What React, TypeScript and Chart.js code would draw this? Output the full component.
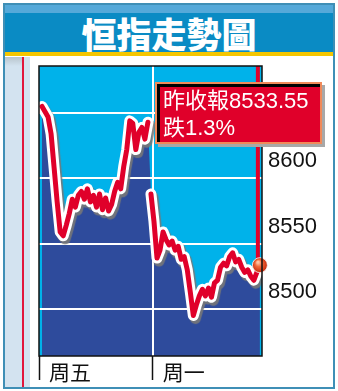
import React, { useEffect, useRef } from "react";
import { Chart, registerables } from "chart.js";

Chart.register(...registerables);

const fridayValues = [8655, 8651, 8647, 8634, 8608, 8582, 8559, 8556, 8564, 8573, 8584, 8578, 8587, 8590, 8584, 8592, 8582, 8587, 8578, 8588, 8576, 8585, 8575, 8580, 8590, 8597, 8592, 8609, 8622, 8644, 8642, 8622, 8635, 8639, 8630, 8643];
const mondayValues = [8588, 8567, 8539, 8545, 8559, 8553, 8549, 8552, 8545, 8548, 8538, 8540, 8530, 8513, 8495, 8503, 8510, 8515, 8510, 8516, 8509, 8520, 8522, 8532, 8535, 8533, 8540, 8543, 8536, 8538, 8532, 8528, 8530, 8525, 8522, 8528, 8533.55];
const dayLabels = ["周五", "周一"];
const dayStarts = [0, 37.6];
const yTickValues = [8500, 8550, 8600, 8650];
const yLabelValues = [8500, 8550, 8600];
const yMin = 8464;
const yMax = 8686;
const xMax = 73.7;
const fridayStart = 1;
const mondayStart = 37;

const CYAN = "#00b2ea";
const DARK = "#2e4b9c";
const RED = "#e0002a";

const points = [
  ...fridayValues.map((v, i) => ({ x: fridayStart + i, y: v })),
  ...mondayValues.map((v, i) => ({ x: mondayStart + i, y: v })),
];
const gapIndex = fridayValues.length - 1;

const decoPlugin = {
  id: "deco",
  beforeDraw(chart: any) {
    const { ctx, chartArea: a } = chart;
    ctx.save();
    ctx.fillStyle = CYAN;
    ctx.fillRect(a.left, a.top, a.right - a.left, a.bottom - a.top);
    ctx.restore();
  },
  beforeDatasetDraw(chart: any, args: any) {
    if (args.index === 1) {
      const ctx = chart.ctx;
      ctx.save();
      ctx.shadowColor = "rgba(120,120,120,0.9)";
      ctx.shadowOffsetX = 2;
      ctx.shadowOffsetY = 3;
      ctx.shadowBlur = 1;
    }
  },
  afterDatasetDraw(chart: any, args: any) {
    const { ctx, chartArea: a } = chart;
    if (args.index === 1) {
      ctx.restore();
    }
    if (args.index === 2) {
      const ys = chart.scales.y;
      const xs = chart.scales.x;
      ctx.save();
      ctx.strokeStyle = "#ffffff";
      ctx.lineWidth = 2;
      yTickValues.forEach((v) => {
        const py = Math.round(ys.getPixelForValue(v));
        ctx.beginPath();
        ctx.moveTo(a.left, py);
        ctx.lineTo(a.right, py);
        ctx.stroke();
      });
      const px = Math.round(xs.getPixelForValue(dayStarts[1]));
      ctx.beginPath();
      ctx.moveTo(px, a.top);
      ctx.lineTo(px, a.bottom);
      ctx.stroke();
      ctx.restore();
    }
  },
  afterDatasetsDraw(chart: any) {
    const { ctx, chartArea: a } = chart;
    const meta = chart.getDatasetMeta(0);
    const pt = meta.data[meta.data.length - 1];
    ctx.save();
    ctx.strokeStyle = RED;
    ctx.lineWidth = 4;
    ctx.beginPath();
    ctx.moveTo(pt.x - 2, pt.y);
    ctx.lineTo(pt.x - 2, a.top);
    ctx.stroke();
    const g = ctx.createRadialGradient(pt.x - 2, pt.y - 3, 1, pt.x, pt.y, 8);
    g.addColorStop(0, "#ffc0a0");
    g.addColorStop(0.35, "#f06a3a");
    g.addColorStop(0.8, "#d33a18");
    g.addColorStop(1, "#b02a10");
    ctx.fillStyle = g;
    ctx.beginPath();
    ctx.arc(pt.x, pt.y, 7.5, 0, Math.PI * 2);
    ctx.fill();
    ctx.strokeStyle = "rgba(255,255,255,0.8)";
    ctx.lineWidth = 1;
    ctx.stroke();
    ctx.restore();
  },
  afterDraw(chart: any) {
    const { ctx, chartArea: a } = chart;
    ctx.save();
    ctx.strokeStyle = "#111";
    ctx.lineWidth = 1.5;
    ctx.strokeRect(a.left, a.top, a.right - a.left, a.bottom - a.top);
    ctx.restore();
  },
};

function ChartCanvas() {
  const ref = useRef<HTMLCanvasElement>(null);
  useEffect(() => {
    if (!ref.current) return;
    const gapSeg = (c: any) => (c.p0DataIndex === gapIndex ? "rgba(0,0,0,0)" : undefined);
    const chart = new Chart(ref.current, {
      type: "line",
      data: {
        datasets: [
          {
            data: points,
            borderColor: RED,
            borderWidth: 5,
            pointRadius: 0,
            tension: 0,
            fill: false,
            borderJoinStyle: "round",
            borderCapStyle: "round",
            segment: { borderColor: gapSeg },
          },
          {
            data: points,
            borderColor: "#ffffff",
            borderWidth: 11,
            pointRadius: 0,
            tension: 0,
            fill: false,
            borderJoinStyle: "round",
            borderCapStyle: "round",
            segment: { borderColor: gapSeg },
          },
          {
            data: points,
            borderWidth: 0,
            borderColor: "rgba(0,0,0,0)",
            backgroundColor: DARK,
            pointRadius: 0,
            tension: 0,
            fill: "start",
          },
        ],
      } as any,
      plugins: [decoPlugin],
      options: {
        animation: false,
        responsive: false,
        devicePixelRatio: 1,
        layout: { padding: { left: 39, top: 66, right: 0, bottom: 0 } },
        plugins: { legend: { display: false }, tooltip: { enabled: false } },
        scales: {
          x: {
            type: "linear",
            min: 0,
            max: xMax,
            afterBuildTicks: (s: any) => {
              s.ticks = dayStarts.map((v) => ({ value: v }));
            },
            afterFit: (s: any) => {
              s.height = 35;
            },
            border: { display: false },
            grid: {
              color: "rgba(0,0,0,0)",
              tickColor: "#111",
              tickLength: 24,
              tickWidth: 1.5,
            },
            ticks: {
              align: "start",
              labelOffset: 10,
              padding: -21,
              color: "#111",
              font: { family: "'Noto Sans CJK TC', sans-serif", size: 21 },
              callback: (v: any) => {
                const i = dayStarts.indexOf(Number(v));
                return i >= 0 ? dayLabels[i] : "";
              },
            },
          },
          y: {
            type: "linear",
            position: "right",
            min: yMin,
            max: yMax,
            afterBuildTicks: (s: any) => {
              s.ticks = yTickValues.map((v) => ({ value: v }));
            },
            afterFit: (s: any) => {
              s.width = 76;
            },
            border: { display: false },
            grid: { color: "rgba(0,0,0,0)", drawTicks: false },
            ticks: {
              padding: 6,
              labelOffset: -17,
              color: "#111",
              font: { family: "'Liberation Sans', Arial, sans-serif", size: 22 },
              callback: (v: any) => (yLabelValues.includes(Number(v)) ? String(v) : ""),
            },
          },
        },
      } as any,
    });
    return () => chart.destroy();
  }, []);
  return (
    <canvas
      ref={ref}
      width={338}
      height={391}
      style={{ position: "absolute", left: 0, top: 0, width: 338, height: 391, zIndex: 2 }}
    />
  );
}

export default function App() {
  return (
    <div style={{ position: "absolute", left: 0, top: 0, width: 338, height: 391, background: "#ffffff", overflow: "hidden" }}>
      <div style={{ position: "absolute", left: 3, top: 3, width: 332, height: 386, border: "2px solid #3f8fb6", boxSizing: "border-box" }} />
      <div style={{ position: "absolute", left: 5, top: 5, width: 328, height: 8, background: "#55a9d9" }} />
      <div style={{ position: "absolute", left: 5, top: 13, width: 328, height: 39, background: "#0a8bc4" }} />
      <div style={{ position: "absolute", left: 5, top: 52, width: 328, height: 4, background: "#f5c600" }} />
      <div
        style={{
          position: "absolute",
          left: 5,
          top: 13,
          width: 328,
          height: 40,
          lineHeight: "40px",
          textAlign: "center",
          color: "#ffffff",
          fontFamily: "'Noto Sans CJK TC', sans-serif",
          fontWeight: 900,
          fontSize: 35,
          letterSpacing: 0,
        }}
      >
        恒指走勢圖
      </div>
      <div style={{ position: "absolute", left: 5, top: 57, width: 25, height: 330, background: "#d3e3f0" }} />
      <div style={{ position: "absolute", left: 5, top: 57, width: 17, height: 9, background: "linear-gradient(#b8c4cc, #d3e3f0)" }} />
      <div style={{ position: "absolute", left: 22, top: 57, width: 2, height: 330, background: "#e2163c" }} />
      <ChartCanvas />
      <div
        style={{
          position: "absolute",
          left: 155,
          top: 82,
          width: 167,
          height: 62,
          boxSizing: "border-box",
          border: "2px solid #f08a5a",
          background: RED,
          boxShadow: "inset 3px 3px 0 #000, 3px 3px 0 #a8a8a8",
          color: "#ffffff",
          fontFamily: "'Liberation Sans', 'Noto Sans CJK TC', sans-serif",
          fontSize: 22,
          lineHeight: "27px",
          paddingTop: 3,
          paddingLeft: 6,
          whiteSpace: "nowrap",
          zIndex: 3,
        }}
      >
        <div>昨收報8533.55</div>
        <div>跌1.3%</div>
      </div>
    </div>
  );
}
